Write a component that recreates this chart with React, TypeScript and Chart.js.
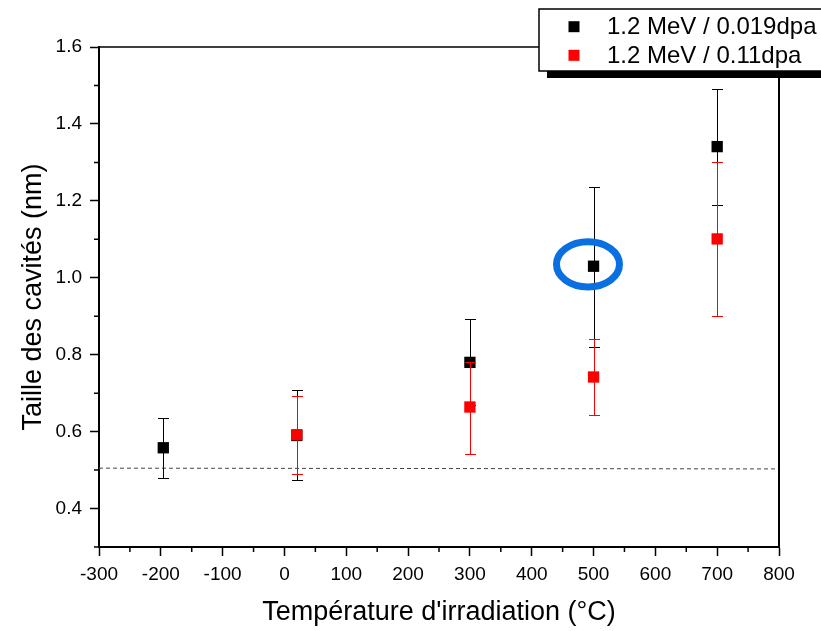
import React, { useEffect, useRef } from "react";
import { Chart, registerables } from "chart.js";

Chart.register(...registerables);

// ---- data ----
const seriesLabels = ["1.2 MeV / 0.019dpa", "1.2 MeV / 0.11dpa"];

const tempsLow = [-196, 20, 300, 500, 700];
const sizeLow = [0.558, 0.59, 0.78, 1.03, 1.341];
const upperLow = [0.635, 0.707, 0.892, 1.237, 1.49];
const lowerLow = [0.48, 0.474, 0.668, 0.821, 1.189];

const tempsHigh = [20, 300, 500, 700];
const sizeHigh = [0.592, 0.664, 0.742, 1.101];
const upperHigh = [0.693, 0.782, 0.84, 1.301];
const lowerHigh = [0.489, 0.543, 0.644, 0.9];

const xMajorTicks = [-300, -200, -100, 0, 100, 200, 300, 400, 500, 600, 700, 800];
const xMinorTicks = [-250, -150, -50, 50, 150, 250, 350, 450, 550, 650, 750];
const yMajorTicks = [0.4, 0.6, 0.8, 1.0, 1.2, 1.4, 1.6];
const yMinorTicks = [0.3, 0.5, 0.7, 0.9, 1.1, 1.3, 1.5];

const thresholdLine = [0.505, 0.503]; // at x = -300 and x = 800
const highlight = { x: 491, y: 1.035 };

const xTitle = "Température d'irradiation (°C)";
const yTitle = "Taille des cavités (nm)";

const FONT = "'Liberation Sans', Arial, Helvetica, sans-serif";

const errorBars = [
  { up: upperLow, lo: lowerLow, xs: tempsLow, color: "#000000" },
  { up: upperHigh, lo: lowerHigh, xs: tempsHigh, color: "#ff0000" },
];

const pluginDecor = {
  id: "decor",
  beforeDatasetsDraw(chart: any) {
    const { ctx, chartArea, scales } = chart;
    const xs = scales.x;
    const ys = scales.y;
    ctx.save();
    // dashed threshold line
    ctx.strokeStyle = "#444444";
    ctx.lineWidth = 1;
    ctx.setLineDash([4, 3]);
    ctx.beginPath();
    ctx.moveTo(xs.getPixelForValue(-300), ys.getPixelForValue(thresholdLine[0]));
    ctx.lineTo(xs.getPixelForValue(800), ys.getPixelForValue(thresholdLine[1]));
    ctx.stroke();
    ctx.setLineDash([]);
    // top and right frame
    ctx.strokeStyle = "#000";
    ctx.lineWidth = 1.5;
    ctx.beginPath();
    ctx.moveTo(chartArea.left, chartArea.top);
    ctx.lineTo(chartArea.right, chartArea.top);
    ctx.stroke();
    ctx.lineWidth = 2;
    ctx.beginPath();
    ctx.moveTo(chartArea.right, chartArea.top);
    ctx.lineTo(chartArea.right, chartArea.bottom);
    ctx.stroke();
    // minor ticks
    ctx.lineWidth = 1.5;
    ctx.beginPath();
    xMinorTicks.forEach((v) => {
      const px = xs.getPixelForValue(v);
      ctx.moveTo(px, chartArea.bottom);
      ctx.lineTo(px, chartArea.bottom + 5);
    });
    yMinorTicks.forEach((v) => {
      const py = ys.getPixelForValue(v);
      ctx.moveTo(chartArea.left, py);
      ctx.lineTo(chartArea.left - 5, py);
    });
    ctx.stroke();
    ctx.restore();
  },
  beforeDatasetDraw(chart: any, args: any) {
    const { ctx, scales } = chart;
    const eb = errorBars[args.index];
    if (!eb) return;
    ctx.save();
    ctx.strokeStyle = eb.color;
    ctx.lineWidth = 1;
    ctx.beginPath();
    eb.xs.forEach((xv: number, i: number) => {
      const px = Math.round(scales.x.getPixelForValue(xv)) + 0.5;
      const pt = Math.round(scales.y.getPixelForValue(eb.up[i])) + 0.5;
      const pb = Math.round(scales.y.getPixelForValue(eb.lo[i])) + 0.5;
      ctx.moveTo(px, pt);
      ctx.lineTo(px, pb);
      ctx.moveTo(px - 5.5, pt);
      ctx.lineTo(px + 5.5, pt);
      ctx.moveTo(px - 5.5, pb);
      ctx.lineTo(px + 5.5, pb);
    });
    ctx.stroke();
    ctx.restore();
  },
  afterDatasetsDraw(chart: any) {
    const { ctx, scales } = chart;
    ctx.save();
    // highlight ellipse
    ctx.strokeStyle = "#0a6fe0";
    ctx.lineWidth = 7;
    ctx.beginPath();
    ctx.ellipse(
      scales.x.getPixelForValue(highlight.x),
      scales.y.getPixelForValue(highlight.y),
      31.5,
      22.6,
      0,
      0,
      Math.PI * 2
    );
    ctx.stroke();

    // legend box with shadow
    const bx = 539, by = 9, bw = 300, bh = 62;
    ctx.fillStyle = "#000";
    ctx.fillRect(bx + 8, by + 7, bw, bh);
    ctx.fillStyle = "#fff";
    ctx.fillRect(bx, by, bw, bh);
    ctx.strokeStyle = "#000";
    ctx.lineWidth = 1.5;
    ctx.strokeRect(bx, by, bw, bh);
    const colors = ["#000000", "#ff0000"];
    ctx.font = `24px ${FONT}`;
    ctx.textBaseline = "alphabetic";
    ctx.textAlign = "left";
    seriesLabels.forEach((lab, i) => {
      const cy = 26.7 + i * 28.6;
      ctx.fillStyle = colors[i];
      ctx.fillRect(568.5, cy - 5.5, 11, 11);
      ctx.fillStyle = "#000";
      ctx.fillText(lab, 607, cy + 7.5);
    });
    ctx.restore();
  },
};

export default function App() {
  const ref = useRef<HTMLCanvasElement>(null);
  useEffect(() => {
    document.body.style.margin = "0";
    const canvas = ref.current!;
    const chart = new Chart(canvas, {
      type: "scatter",
      data: {
        datasets: [
          {
            label: seriesLabels[0],
            data: tempsLow.map((x, i) => ({ x, y: sizeLow[i] })),
            backgroundColor: "#000000",
            borderColor: "#000000",
            pointStyle: "rect",
            pointRadius: 8,
            pointBorderWidth: 0,
            order: 1,
          },
          {
            label: seriesLabels[1],
            data: tempsHigh.map((x, i) => ({ x, y: sizeHigh[i] })),
            backgroundColor: "#ff0000",
            borderColor: "#ff0000",
            pointStyle: "rect",
            pointRadius: 8,
            pointBorderWidth: 0,
            order: 0,
          },
        ],
      },
      options: {
        animation: false,
        responsive: false,
        devicePixelRatio: 1,
        layout: { padding: { top: 47, right: 42, left: 0, bottom: 0 } },
        plugins: { legend: { display: false }, tooltip: { enabled: false } },
        scales: {
          x: {
            type: "linear",
            min: -300,
            max: 800,
            afterBuildTicks: (s: any) => {
              s.ticks = xMajorTicks.map((value) => ({ value }));
            },
            afterFit: (s: any) => {
              s.height = 84;
            },
            ticks: {
              font: { family: FONT, size: 19 },
              color: "#000",
              padding: 7,
              maxRotation: 0,
              autoSkip: false,
            },
            grid: {
              display: true,
              drawOnChartArea: false,
              drawTicks: true,
              tickLength: 9,
              tickColor: "#000",
              tickWidth: 1.5,
            },
            border: { display: true, color: "#000", width: 2 },
            title: {
              display: true,
              text: xTitle,
              font: { family: FONT, size: 27, lineHeight: 1 },
              color: "#000",
              padding: { top: 0, bottom: 5 },
            },
          },
          y: {
            type: "linear",
            min: 0.3,
            max: 1.6,
            afterBuildTicks: (s: any) => {
              s.ticks = yMajorTicks.map((value) => ({ value }));
            },
            afterFit: (s: any) => {
              s.width = 99;
            },
            ticks: {
              font: { family: FONT, size: 19 },
              color: "#000",
              padding: 8,
              callback: (v: any) => Number(v).toFixed(1),
            },
            grid: {
              display: true,
              drawOnChartArea: false,
              drawTicks: true,
              tickLength: 9,
              tickColor: "#000",
              tickWidth: 1.5,
            },
            border: { display: true, color: "#000", width: 2 },
            title: {
              display: true,
              text: yTitle,
              font: { family: FONT, size: 27, lineHeight: 1 },
              color: "#000",
              padding: { top: 20, bottom: 0 },
            },
          },
        },
      },
      plugins: [pluginDecor],
    });
    return () => chart.destroy();
  }, []);
  return (
    <div style={{ position: "absolute", left: 0, top: 0, width: 821, height: 631, background: "#fff" }}>
      <canvas ref={ref} width={821} height={631} style={{ width: 821, height: 631 }} />
    </div>
  );
}
